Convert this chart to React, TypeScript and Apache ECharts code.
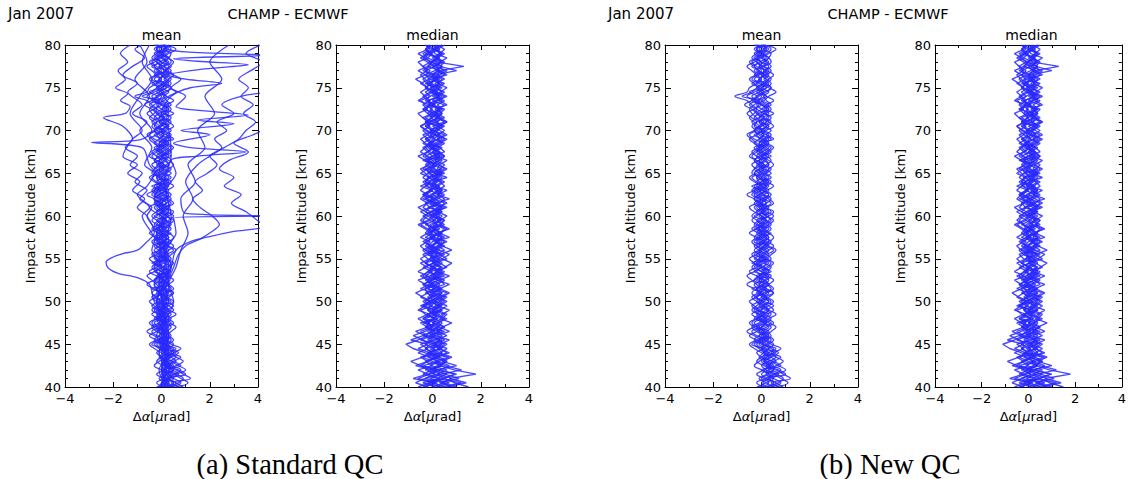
import React, { useEffect, useRef } from "react";
import * as echarts from "echarts";

// Altitude levels (km), 0.5 km steps from 40 to 80
const ALT = [
  40, 40.5, 41, 41.5, 42, 42.5, 43, 43.5, 44, 44.5,
  45, 45.5, 46, 46.5, 47, 47.5, 48, 48.5, 49, 49.5,
  50, 50.5, 51, 51.5, 52, 52.5, 53, 53.5, 54, 54.5,
  55, 55.5, 56, 56.5, 57, 57.5, 58, 58.5, 59, 59.5,
  60, 60.5, 61, 61.5, 62, 62.5, 63, 63.5, 64, 64.5,
  65, 65.5, 66, 66.5, 67, 67.5, 68, 68.5, 69, 69.5,
  70, 70.5, 71, 71.5, 72, 72.5, 73, 73.5, 74, 74.5,
  75, 75.5, 76, 76.5, 77, 77.5, 78, 78.5, 79, 79.5,
  80,
];

const X_TICKS = [-4, -2, 0, 2, 4];
const Y_TICKS = [40, 45, 50, 55, 60, 65, 70, 75, 80];
const PANEL_TITLES = ["mean", "median", "mean", "median"];
const CAPTIONS = ["(a) Standard QC", "(b) New QC"];

// Mean profiles (Δα in µrad) that survive both QC schemes
const MEAN_1 = [0.4,0.7,0.9,0.6,0.3,0.5,0.2,-0.1,0.1,0.3, 0.0,-0.3,-0.1,0.2,0.4,0.1,-0.2,0.0,0.3,0.1, -0.2,-0.4,-0.1,0.2,0.0,-0.3,-0.1,0.2,0.4,0.1, -0.1,0.1,0.3,0.0,-0.2,0.1,0.3,0.1,-0.2,0.0, 0.2,-0.1,-0.3,0.0,0.2,0.4,0.1,-0.2,0.0,0.3, 0.1,-0.2,-0.4,-0.1,0.2,0.0,-0.2,0.1,0.3,0.0, -0.3,-0.1,0.2,0.4,0.1,-0.2,-0.5,-0.2,0.1,-0.1, 0.2,0.0,-0.3,-0.1,0.2,0.3,0.0,-0.2,0.1,0.2, 0.0];
const MEAN_2 = [0.1,-0.2,0.2,0.5,0.8,0.4,0.1,0.3,0.0,-0.3, -0.5,-0.2,0.1,-0.1,0.2,0.5,0.2,-0.1,-0.3,0.0, 0.3,0.1,-0.2,0.0,0.3,0.1,-0.2,-0.5,-0.2,0.1, 0.4,0.2,-0.1,-0.3,0.0,0.2,-0.1,-0.4,-0.1,0.2, 0.0,-0.2,0.1,0.4,0.1,-0.1,-0.3,0.0,0.2,-0.1, -0.3,0.0,0.3,0.1,-0.2,-0.4,-0.1,0.2,0.0,-0.2, 0.1,0.3,0.0,-0.2,-0.4,-0.5,-0.3,-0.1,-0.8,-0.4, -0.2,0.1,0.3,0.1,-0.1,-0.3,-0.1,0.2,0.0,-0.2, 0.1];
const MEAN_3 = [0.6,1.1,0.8,0.5,0.2,0.0,0.3,0.6,0.3,0.0, 0.2,0.4,0.1,-0.2,-0.4,-0.1,0.1,0.4,0.2,-0.1, 0.1,0.3,0.5,0.2,-0.1,0.1,0.3,0.0,-0.2,0.0, -0.2,-0.4,-0.1,0.2,0.4,0.1,-0.1,0.1,0.4,0.2, -0.1,0.1,0.3,0.0,-0.3,-0.1,0.2,0.5,0.2,0.0, 0.2,0.4,0.1,-0.1,0.1,0.3,0.5,0.2,-0.1,0.1, 0.0,-0.2,-0.4,-0.1,0.1,0.3,0.0,-0.3,-0.1,0.2, 0.4,0.1,-0.1,0.2,0.4,0.1,-0.2,0.0,0.3,0.6, 0.1];
const MEAN_4 = [0.2,0.0,0.4,0.7,0.4,0.1,-0.2,0.0,0.3,0.5, 0.2,0.0,-0.3,-0.6,-0.3,0.0,0.2,-0.1,-0.4,-0.2, 0.0,0.2,-0.1,-0.3,-0.6,-0.3,0.0,0.2,0.0,-0.3, -0.1,0.2,0.5,0.2,0.0,-0.2,0.1,0.3,0.0,-0.2, -0.4,-0.2,0.1,-0.1,-0.3,-0.1,0.2,0.0,-0.3,-0.5, -0.2,0.1,-0.1,-0.3,0.0,0.2,0.0,-0.3,-0.5,-0.2, 0.0,0.2,0.0,-0.3,-0.1,0.2,0.0,-0.2,-0.4,-0.1, 0.1,-0.1,-0.4,-0.2,0.0,-0.2,-0.4,-0.1,0.1,-0.1, 0.0];
const MEAN_5 = [0.9,0.6,0.3,0.6,1.0,0.7,0.4,0.1,0.3,0.0, -0.2,0.1,0.3,0.1,-0.1,-0.3,0.0,0.2,0.5,0.3, 0.0,-0.2,0.1,0.4,0.2,-0.1,0.1,0.3,0.1,-0.2, 0.0,0.3,0.1,-0.2,-0.4,-0.1,0.2,0.4,0.2,0.0, 0.3,0.1,-0.1,0.2,0.4,0.1,-0.1,-0.3,0.0,0.2, 0.0,-0.1,0.2,0.4,0.2,-0.1,0.1,0.3,0.1,-0.1, -0.3,0.0,0.3,0.1,-0.2,0.0,0.2,0.5,0.2,0.0, -0.2,0.1,0.3,0.5,0.2,-0.1,0.1,0.3,0.4,0.1, 0.2];
const MEAN_6 = [-0.1,0.2,0.5,0.3,0.0,-0.3,-0.1,0.2,0.5,0.8, 0.4,0.1,-0.1,0.1,-0.2,-0.4,-0.2,0.1,-0.1,-0.3, -0.5,-0.2,0.0,-0.2,0.1,0.3,0.0,-0.2,-0.4,-0.2, 0.1,-0.1,-0.3,-0.1,0.1,-0.2,-0.5,-0.2,0.0,0.2, 0.0,-0.3,-0.5,-0.2,0.0,-0.2,-0.4,-0.1,0.1,-0.1, -0.3,-0.1,0.1,-0.2,-0.4,-0.2,0.0,-0.2,-0.4,-0.6, -0.3,-0.1,-0.3,-0.5,-0.3,-0.2,-0.4,-0.6,-1.1,-0.6, -0.5,-0.2,0.0,-0.2,-0.4,-0.6,-0.3,-0.1,-0.3,0.0, -0.2];
const MEAN_7 = [0.3,0.5,0.2,0.0,0.3,0.6,0.9,0.6,0.2,0.0, 0.1,-0.1,0.2,0.4,0.6,0.3,0.0,-0.2,0.0,0.3, 0.5,0.2,-0.1,0.1,0.3,0.5,0.2,0.0,0.2,0.4, 0.1,-0.1,0.1,0.3,0.1,-0.1,0.0,-0.2,0.1,0.3, 0.5,0.2,0.0,0.2,-0.1,-0.3,0.0,0.2,0.4,0.1, -0.1,0.1,-0.1,-0.3,-0.1,0.2,0.4,0.1,0.2,0.0, 0.2,0.5,0.3,0.1,0.3,0.0,-0.2,0.1,0.3,0.6, 0.3,0.0,0.2,0.0,-0.3,0.0,0.2,0.1,-0.1,0.2, 0.0];
const MEAN_8 = [0.0,0.3,0.1,-0.2,0.1,0.3,0.1,0.4,0.7,0.4, 0.1,-0.2,-0.5,-0.2,0.0,0.2,0.4,0.1,-0.2,-0.4, -0.1,0.1,0.3,0.0,-0.2,-0.4,-0.6,-0.3,0.0,0.2, 0.0,-0.2,0.0,0.2,-0.1,-0.3,-0.1,0.1,-0.2,-0.4, -0.2,0.0,0.2,-0.1,-0.3,-0.6,-0.3,-0.1,0.1,-0.2, 0.0,0.2,0.0,-0.2,-0.5,-0.3,-0.1,-0.3,-0.1,0.1, -0.2,-0.4,-0.2,0.1,-0.1,-0.3,-0.1,-0.3,-0.6,-0.3, 0.0,-0.2,-0.1,0.1,-0.1,-0.3,-0.5,-0.2,0.0,-0.2, -0.1];
const MEAN_9 = [0.5,0.2,0.0,0.2,0.5,0.3,0.6,0.4,0.1,-0.1, -0.3,0.0,0.2,0.0,0.3,0.1,-0.1,0.1,0.0,0.2, 0.0,-0.2,-0.4,-0.2,0.1,0.0,0.1,0.3,0.1,-0.1, 0.2,0.4,0.6,0.3,0.1,0.3,0.0,-0.1,0.1,0.4, 0.2,0.0,-0.2,0.0,0.1,0.3,0.1,0.3,0.1,0.4, 0.2,0.3,0.1,0.0,-0.2,0.0,0.3,0.1,0.4,0.2, 0.4,0.1,-0.1,0.1,0.0,0.3,0.1,-0.1,0.0,-0.2, 0.0,0.3,0.1,0.3,0.1,0.4,0.2,0.0,-0.2,0.1, 0.3];
const MEAN_10 = [0.7,0.4,1.2,0.9,0.6,0.3,0.1,0.4,0.1,0.3, 0.5,0.2,0.0,0.3,0.0,0.2,-0.1,-0.4,-0.1,0.1, -0.1,0.2,0.0,-0.2,0.1,-0.1,0.2,0.0,-0.3,-0.1, 0.2,0.0,-0.1,0.1,0.3,0.2,0.0,0.2,-0.1,0.1, 0.0,0.3,0.1,-0.2,0.2,0.0,-0.2,0.1,0.3,0.0, 0.2,0.0,0.3,0.2,0.0,0.3,0.1,-0.1,0.2,0.4, 0.1,-0.1,0.1,-0.1,0.2,0.4,0.2,0.0,0.2,0.0, 0.2,0.4,0.2,0.0,0.2,-0.1,0.1,0.3,0.0,-0.2, 0.0];
const MEAN_11 = [-0.2,0.1,-0.1,0.3,0.1,0.4,0.2,0.0,-0.2,0.1, 0.3,0.5,0.2,-0.1,-0.3,-0.5,-0.2,0.1,0.3,0.0, -0.2,0.0,0.2,0.5,0.3,0.1,-0.1,0.1,-0.1,-0.3, -0.5,-0.2,0.0,-0.2,0.1,0.3,0.1,-0.1,-0.3,-0.1, 0.1,0.4,0.2,0.0,-0.2,0.1,0.3,0.0,-0.2,-0.4, -0.1,-0.3,-0.1,0.1,0.3,0.1,-0.1,0.0,-0.3,-0.5, -0.2,0.0,0.2,0.0,-0.2,-0.4,-0.7,-0.4,-0.2,0.1, -0.1,-0.3,-0.5,-0.2,0.1,0.0,-0.2,-0.4,-0.2,0.1, -0.3];
const MEAN_12 = [0.4,0.8,0.5,0.2,0.5,0.2,0.0,0.2,0.5,0.2, -0.1,0.2,0.4,0.2,-0.1,0.1,0.3,0.6,0.3,0.1, 0.3,0.0,0.2,0.1,-0.1,0.2,0.4,0.1,0.3,0.5, 0.2,0.0,0.3,0.5,0.2,0.0,-0.2,0.0,0.3,0.5, 0.2,0.0,0.2,0.5,0.3,0.1,-0.1,0.2,-0.1,-0.2, 0.1,0.3,0.5,0.3,0.0,-0.2,0.1,-0.1,0.1,0.3, 0.0,0.2,0.4,0.2,0.5,0.2,0.3,0.0,-0.2,0.1, 0.4,0.2,-0.1,0.1,0.3,0.1,0.3,0.0,0.2,0.4, 0.1];
const MEAN_13 = [0.1,0.5,0.3,1.0,0.7,0.2,0.5,0.8,0.4,0.6, 0.0,0.3,-0.2,-0.4,0.0,0.4,0.1,0.3,-0.2,0.1, 0.4,0.2,0.5,-0.1,-0.3,0.0,-0.2,0.4,0.1,0.3, -0.3,0.0,0.2,-0.1,0.3,0.5,0.3,-0.1,0.1,-0.2, 0.3,0.5,0.0,-0.3,0.0,0.3,0.0,-0.4,0.3,0.1, 0.4,0.1,-0.2,0.2,0.0,0.4,0.2,0.0,0.5,0.2, -0.1,0.3,-0.1,0.3,0.2,0.1,0.4,0.2,0.1,0.3, 0.0,0.2,0.4,0.2,-0.2,0.1,0.4,0.3,0.0,0.3, -0.2];
const MEAN_14 = [0.2,0.6,0.2,0.4,0.0,0.8,0.5,0.0,0.6,0.1, -0.4,-0.1,0.3,0.0,-0.2,0.2,-0.3,-0.1,0.2,0.5, 0.1,-0.3,0.1,-0.4,0.3,-0.2,0.3,-0.3,0.0,-0.4, 0.3,-0.3,-0.1,0.1,-0.3,0.0,0.4,-0.3,0.3,0.1, -0.3,0.1,-0.1,0.2,0.0,-0.4,-0.2,0.2,-0.2,0.0, -0.4,-0.3,0.0,-0.1,0.4,-0.1,-0.3,0.3,0.0,-0.3, 0.1,-0.3,-0.2,-0.4,-0.6,-0.3,0.0,-0.4,-0.2,-0.5, -0.1,-0.4,0.0,-0.3,-0.1,-0.4,0.0,-0.3,-0.1,-0.3, 0.1];

// Mean profiles rejected by the new QC (pairs: [Δα, altitude])
const OUT_1 = [[0.1,40],[0.3,42],[-0.1,44],[0.2,46],[-0.2,48],[0.1,50],[-0.3,52],[0.0,54],[-0.4,56],[-0.2,58],[-0.6,60],[-0.4,61],[-0.9,62],[-0.6,63],[-1.1,64],[-0.8,65],[-1.3,66],[-1.0,67],[-1.5,68],[-1.2,69],[-1.6,70.5],[-2.4,71.5],[-1.5,72],[-1.3,72.8],[-1.7,73.5],[-1.4,74.3],[-1.9,75],[-1.5,76],[-1.8,77],[-1.4,78],[-1.7,79],[-1.3,80]];
const OUT_2 = [[0.3,40],[0.0,42],[0.4,44],[0.1,46],[-0.1,48],[0.2,50],[0.0,52],[0.3,54],[0.1,56],[-0.2,58],[0.1,60],[-0.3,62],[0.0,64],[-0.5,66],[-0.8,68],[-2.9,68.6],[-0.9,68.9],[-0.4,70],[-0.9,72],[-0.5,74],[-1.1,76],[-0.6,78],[-0.9,80]];
const OUT_3 = [[0.2,40],[-0.1,42],[0.3,44],[0.0,46],[0.2,48],[-0.2,50],[0.1,52],[0.4,54],[0.2,56],[0.6,58],[0.5,59.8],[4.5,60.0],[1.0,60.3],[0.8,62],[1.4,64],[1.1,66],[1.8,68],[1.5,70],[2.2,72],[1.8,74],[2.5,76],[2.0,78],[2.8,80]];
const OUT_4 = [[0.3,40],[0.0,42],[0.2,44],[-0.2,46],[0.1,48],[-0.3,50],[-0.5,52],[-1.0,52.8],[-1.8,53.3],[-2.2,53.9],[-2.3,54.6],[-2.0,55.2],[-1.6,55.6],[-1.0,56],[-0.6,57],[-0.3,58],[-0.6,60],[-1.0,61],[-0.7,62],[-1.2,63],[-0.9,64],[-1.4,65],[-1.0,66],[-1.6,67],[-1.2,69],[-0.8,70],[-1.3,72],[-0.9,74],[-0.4,76],[-0.8,78],[-0.5,80]];
const OUT_5 = [[0.1,40],[0.4,42],[0.1,44],[0.3,46],[0.0,48],[0.3,50],[0.1,52],[0.4,54],[0.6,56],[1.2,57],[2.0,57.6],[3.0,58.2],[4.2,58.8],[3.5,60.5],[2.9,61.5],[3.3,62.5],[2.6,63.5],[3.0,64.5],[2.4,65.5],[2.8,66.5],[3.6,67.5],[3.0,68.5],[3.8,69.5],[4.5,70.5]];
const OUT_6 = [[0.0,40],[0.2,42],[-0.1,44],[0.1,46],[0.3,48],[0.0,50],[0.2,52],[0.5,54],[0.7,55.5],[1.0,56.5],[1.6,57.3],[2.0,58],[2.4,59],[2.1,60],[1.6,61],[1.3,62],[1.7,63],[1.4,64],[1.9,65],[2.3,66],[2.0,67],[2.5,68],[2.2,69],[2.7,70],[2.3,71],[3.0,72],[2.5,73],[3.3,74],[4.5,74.5]];
const OUT_7 = [[0.2,40],[0.0,43],[0.3,46],[0.1,49],[-0.1,52],[0.2,55],[0.0,58],[0.3,61],[0.1,64],[0.4,67],[0.3,70],[0.0,72],[0.4,74],[1.2,75],[2.5,75.5],[1.0,76],[0.3,76.5],[1.8,77.2],[3.6,77.7],[1.5,78.1],[0.5,78.4],[4.5,78.8],[1.0,79.2],[0.2,79.6],[0.5,80]];
const OUT_8 = [[0.4,40],[0.1,42],[0.3,44],[0.0,46],[0.2,48],[0.5,50],[0.3,52],[0.6,54],[0.8,56],[1.1,58],[0.9,60],[1.3,62],[1.0,64],[1.5,66],[2.0,67],[2.6,68],[3.2,69],[3.5,70],[3.9,71],[3.4,72],[3.8,73],[3.3,74],[3.6,75],[3.2,76],[3.7,77],[4.2,78],[3.5,79],[4.1,80]];
const OUT_9 = [[-0.1,40],[0.2,42],[0.0,44],[0.3,46],[0.0,48],[-0.2,50],[0.1,52],[-0.3,54],[0.0,56],[-0.4,58],[-0.8,60],[-0.5,61],[-1.0,62.5],[-0.6,63.5],[-0.3,65],[-0.7,66],[-0.4,68],[-0.9,70],[-0.6,71],[-1.2,72],[-0.8,73],[-1.4,74.5],[-1.0,75.5],[-1.6,76.5],[-1.2,77.5],[-0.7,78.5],[-1.1,79.5],[-0.8,80]];
const OUT_10 = [[0.0,40],[0.2,44],[0.0,48],[0.3,52],[0.1,56],[0.4,60],[0.2,63],[0.6,65],[0.4,66.5],[1.5,67],[3.5,67.5],[1.2,68],[0.5,68.5],[2.0,69.5],[0.8,70],[3.0,70.8],[1.5,71.2],[3.6,71.8],[1.8,72.3],[0.6,72.8],[1.0,74],[0.4,75],[0.8,76],[0.2,77],[0.5,78],[0.0,79],[0.3,80]];

// Median profiles
const MED_1 = [0.3,-0.2,0.5,0.1,-0.3,0.4,0.0,-0.4,0.2,-0.1, 0.4,-0.2,0.1,0.5,-0.1,0.3,-0.3,0.2,0.0,0.4, -0.2,0.3,-0.1,0.4,0.0,-0.3,0.2,0.5,-0.1,0.3, 0.0,0.4,-0.2,0.2,0.6,0.1,-0.2,0.3,0.0,0.4, -0.1,0.2,0.5,0.0,-0.3,0.2,0.4,-0.1,0.1,0.3, -0.2,0.4,0.0,0.3,-0.3,0.1,0.4,-0.1,0.2,0.5, 0.0,-0.3,0.2,0.4,-0.1,0.3,0.0,-0.2,0.3,0.1, 0.4,-0.1,0.2,-0.3,0.1,0.4,0.0,0.3,-0.2,0.2, 0.0];
const MED_2 = [1.0,0.4,0.8,0.2,0.6,-0.1,0.3,0.7,0.1,-0.3, 0.2,-0.5,0.0,-0.2,0.3,-0.4,0.1,-0.2,0.2,-0.5, -0.1,0.2,-0.3,0.1,-0.4,0.0,0.3,-0.2,0.1,-0.3, 0.2,-0.1,0.3,-0.2,0.0,0.4,-0.1,0.2,-0.3,0.1, -0.2,0.3,-0.1,0.2,-0.4,0.0,0.2,-0.3,0.1,-0.1, 0.3,-0.2,0.1,-0.4,0.0,0.3,-0.2,0.1,-0.3,0.2, -0.1,0.3,-0.3,0.0,0.2,-0.4,0.1,-0.2,0.3,-0.1, 0.1,-0.3,0.2,-0.1,0.3,-0.2,0.0,0.2,-0.3,0.1, -0.2];
const MED_3 = [-0.4,0.2,-0.6,-0.1,0.3,-0.5,-0.2,0.1,-0.3,-0.8, -1.1,-0.6,-0.2,-0.5,0.0,-0.3,-0.6,-0.2,0.1,-0.4, -0.1,-0.5,-0.2,0.1,-0.3,-0.6,-0.1,0.2,-0.2,-0.5, -0.1,0.1,-0.3,0.0,-0.4,-0.1,0.2,-0.2,-0.5,-0.1, 0.1,-0.3,-0.6,-0.2,0.0,-0.4,-0.1,0.2,-0.3,-0.1, -0.5,-0.2,0.1,-0.3,-0.6,-0.2,0.0,-0.4,-0.1,0.1, -0.3,-0.5,-0.1,0.2,-0.2,-0.4,-0.1,-0.6,-0.3,0.0, -0.2,-0.5,-0.1,-0.3,-0.6,-0.2,0.0,-0.4,-0.1,-0.3, 0.0];
const MED_4 = [0.6,1.4,0.7,1.8,0.9,0.3,0.6,0.0,0.4,0.2, 0.5,0.1,0.6,0.2,0.4,0.8,0.3,0.5,0.0,0.3, 0.6,0.2,0.4,0.0,0.5,0.3,0.7,0.2,0.4,0.1, 0.6,0.3,0.8,0.4,0.1,0.5,0.2,0.7,0.3,0.5, 0.1,0.4,0.2,0.6,0.3,0.0,0.4,0.2,0.5,0.1, 0.3,0.6,0.2,0.4,0.0,0.5,0.3,0.1,0.4,0.2, 0.5,0.2,0.6,0.3,0.1,0.4,0.2,0.5,0.0,0.3, 0.6,0.2,0.4,0.1,1.0,0.3,0.5,0.2,0.4,0.1, 0.3];
const MED_5 = [0.2,0.7,-0.1,0.4,1.2,0.5,0.1,0.6,-0.2,0.3, -0.1,0.4,0.0,0.3,-0.3,0.2,0.5,0.1,-0.2,0.2, 0.4,0.0,0.3,-0.2,0.2,0.5,0.1,0.4,0.0,0.2, -0.1,0.3,0.1,0.5,0.2,-0.1,0.3,0.6,0.2,0.0, 0.3,0.1,0.4,-0.1,0.2,0.5,0.1,0.3,-0.2,0.2, 0.4,0.1,-0.1,0.3,0.5,0.2,-0.1,0.3,0.6,0.1, 0.2,0.5,0.0,0.3,0.1,0.4,-0.1,0.2,0.5,0.1, -0.1,0.3,0.1,0.5,0.2,0.0,0.4,0.1,0.3,0.5, 0.2];
const MED_6 = [-0.3,0.1,-0.8,-0.2,0.2,-0.4,0.3,-0.1,-0.6,-0.2, -0.5,0.1,-0.3,-0.7,-0.2,0.1,-0.4,-0.1,-0.6,-0.3, 0.0,-0.4,-0.7,-0.3,0.0,-0.2,-0.5,-0.1,0.1,-0.3, -0.5,-0.2,0.0,-0.3,-0.1,-0.5,-0.2,0.1,-0.2,-0.4, -0.2,-0.5,-0.1,-0.3,0.0,-0.2,-0.5,-0.3,-0.1,-0.4, -0.2,0.0,-0.3,-0.1,-0.4,-0.2,0.1,-0.3,-0.5,-0.2, 0.0,-0.3,-0.1,-0.4,-0.6,-0.2,-0.4,-0.1,-0.3,-0.5, -0.2,-0.4,-0.7,-0.3,-0.1,-0.4,-0.6,-0.2,-0.4,-0.1, -0.3];
const MED_7 = [0.8,0.3,1.1,0.5,0.0,0.4,-0.2,0.2,0.6,0.3, 0.0,0.5,0.2,0.7,0.3,0.0,0.4,0.6,0.2,0.1, 0.3,0.6,0.1,0.3,0.7,0.2,0.0,0.3,0.5,0.8, 0.4,0.1,0.5,0.2,0.4,0.0,0.3,0.5,0.1,0.3, 0.6,0.2,0.0,0.3,0.5,0.2,0.6,0.1,0.4,0.0, 0.2,0.5,0.3,0.6,0.1,0.3,0.0,0.4,0.2,0.6, 0.3,0.0,0.5,0.2,0.4,0.1,0.6,0.3,0.1,0.4, 0.2,0.5,0.0,0.3,0.6,0.1,0.4,0.2,0.5,0.0, 0.4];
const MED_8 = [0.1,-0.4,0.3,-0.2,-0.6,0.0,-0.3,0.3,-0.1,0.1, -0.3,0.0,-0.4,0.1,-0.2,-0.5,0.0,0.3,-0.1,-0.4, 0.2,-0.2,0.0,-0.5,-0.1,0.2,-0.3,0.0,-0.4,0.1, -0.2,-0.4,0.1,-0.1,0.2,-0.3,0.0,-0.2,0.2,-0.1, -0.4,0.0,0.2,-0.2,0.1,-0.3,0.0,-0.5,-0.1,0.2, -0.1,-0.3,0.1,-0.2,0.2,-0.1,-0.3,0.0,-0.2,-0.4, 0.1,-0.2,0.0,-0.3,0.2,-0.1,0.1,-0.3,-0.1,0.2, -0.3,0.0,-0.2,0.1,-0.4,-0.1,0.2,-0.2,0.0,-0.3, -0.1];
const MED_9 = [0.5,0.0,0.4,1.0,0.3,0.7,0.2,-0.2,0.3,0.0, 0.3,0.7,0.1,-0.1,0.2,0.4,0.1,-0.2,0.3,0.6, 0.1,-0.1,0.4,0.2,0.0,-0.2,0.4,0.1,0.6,0.3, 0.0,0.2,-0.1,0.4,0.1,0.7,0.3,0.0,0.4,0.1, 0.2,-0.1,0.3,0.5,0.1,0.3,-0.1,0.2,0.0,0.6, 0.1,-0.1,0.2,0.0,0.4,0.1,0.3,-0.1,0.0,0.3, 0.1,0.4,0.2,-0.1,0.3,0.5,0.0,0.2,0.6,0.2, 0.0,0.3,-0.1,0.6,0.3,0.1,0.3,0.6,0.1,0.0, 0.2];
const MED_10 = [-0.6,-0.1,0.2,-0.4,0.0,-0.7,-0.2,-0.5,0.0,-0.3, -0.1,-0.4,-0.8,-0.3,0.0,-0.2,0.1,-0.3,-0.5,0.0, -0.3,-0.1,0.1,-0.2,-0.4,0.0,-0.2,-0.6,-0.3,0.0, 0.1,-0.2,-0.4,-0.1,-0.3,0.1,-0.1,-0.3,-0.6,-0.2, 0.0,-0.3,-0.1,0.1,-0.2,-0.4,-0.1,0.0,-0.3,-0.2, 0.1,-0.4,-0.2,0.0,-0.2,-0.5,-0.3,-0.1,0.1,-0.2, -0.4,-0.1,-0.3,0.0,-0.2,0.0,-0.3,-0.5,-0.1,-0.3, 0.0,-0.2,-0.4,-0.1,-0.3,0.1,-0.2,-0.5,-0.2,0.0, -0.3];
const MED_11 = [1.5,0.9,0.5,0.9,0.2,1.0,0.4,0.8,0.3,0.6, 0.1,0.3,-0.1,0.2,0.5,0.0,0.2,0.4,0.7,0.2, 0.0,0.4,0.7,0.3,0.1,0.4,-0.1,0.2,0.3,0.0, 0.4,0.7,0.3,0.0,0.2,0.4,0.1,-0.1,0.3,0.5, 0.2,0.0,0.4,0.1,0.7,0.2,0.4,0.0,0.2,0.4, 0.1,0.3,0.5,0.1,0.3,0.0,0.2,0.5,0.1,-0.1, 0.2,0.4,0.1,0.5,0.2,0.3,0.0,0.4,0.2,0.0, 0.3,0.1,0.5,0.2,0.3,1.3,0.2,0.0,0.3,0.1, 0.4];
const MED_12 = [-0.2,-0.7,-0.3,0.1,-0.2,-0.5,-0.9,-0.4,-0.1,-0.6, -0.2,-0.9,-0.4,0.0,-0.3,-0.1,-0.4,0.0,-0.2,-0.1, -0.4,0.0,-0.2,-0.3,0.1,-0.1,-0.4,-0.2,0.0,-0.3, -0.1,0.0,-0.3,-0.5,-0.2,0.0,-0.3,-0.1,-0.2,-0.5, -0.3,-0.1,-0.4,-0.2,-0.5,-0.3,0.0,-0.2,-0.4,-0.1, -0.3,-0.5,-0.1,-0.3,0.0,-0.2,-0.4,-0.1,-0.3,0.0, -0.2,-0.5,-0.2,-0.4,0.0,-0.3,-0.1,-0.2,-0.4,-0.1, -0.3,-0.1,-0.3,-0.5,-0.2,-0.4,-0.1,-0.3,-0.6,-0.2, -0.1];
const MED_13 = [0.4,1.2,0.2,0.6,0.0,0.3,0.5,0.1,0.7,0.3, 0.6,0.2,0.4,0.0,0.5,0.2,0.6,0.0,0.4,0.2, 0.5,0.3,0.6,0.1,0.3,0.0,0.5,0.2,0.1,0.4, 0.2,0.5,0.0,0.3,0.5,0.2,0.4,0.0,0.5,0.2, 0.4,0.1,0.6,0.2,0.0,0.4,0.2,0.5,0.3,0.0, 0.5,0.2,0.3,0.1,0.5,0.3,0.0,0.2,0.5,0.3, 0.1,0.3,0.6,0.1,0.4,0.2,0.5,0.0,0.2,0.5, 0.1,0.4,0.2,0.0,0.5,0.2,0.3,0.1,0.4,0.2, 0.5];
const MED_14 = [0.0,0.5,-0.3,0.3,-0.1,0.2,0.6,0.3,-0.2,0.4, 0.1,0.3,-0.2,0.4,0.1,-0.3,0.2,0.0,0.4,-0.1, 0.2,0.5,0.0,0.3,-0.2,0.3,0.1,-0.1,0.4,0.0, 0.3,-0.2,0.2,0.0,0.3,-0.1,0.4,0.1,-0.1,0.3, 0.0,0.4,-0.2,0.3,0.1,-0.1,0.3,0.0,0.2,-0.2, 0.4,0.0,0.2,-0.2,0.3,0.0,0.2,-0.2,0.3,0.1, -0.1,0.2,-0.2,0.3,0.0,0.3,-0.2,0.1,0.4,0.0, 0.2,-0.2,0.3,0.0,0.2,0.4,-0.1,0.2,-0.1,0.3, 0.1];

const MEAN_CORE = [MEAN_1, MEAN_2, MEAN_3, MEAN_4, MEAN_5, MEAN_6, MEAN_7, MEAN_8, MEAN_9, MEAN_10, MEAN_11, MEAN_12, MEAN_13, MEAN_14];
const MEAN_OUTLIERS = [OUT_1, OUT_2, OUT_3, OUT_4, OUT_5, OUT_6, OUT_7, OUT_8, OUT_9, OUT_10];
const MEDIANS = [MED_1, MED_2, MED_3, MED_4, MED_5, MED_6, MED_7, MED_8, MED_9, MED_10, MED_11, MED_12, MED_13, MED_14];

const FONT = "DejaVu Sans";
const LINE_COLOR = "rgba(40,40,255,0.85)";
const GRID_LEFTS = [65, 336, 665, 935];
const GRID_TOP = 45;
const GRID_W = 193;
const GRID_H = 342;

const fmtX = (v: number) => (v < 0 ? "\u2212" + Math.abs(v) : String(v));

export default function App() {
  const ref = useRef<HTMLDivElement>(null);
  useEffect(() => {
    if (!ref.current) return;
    const chart = echarts.init(ref.current, undefined, { renderer: "svg" });

    const grids: any[] = [];
    const xAxes: any[] = [];
    const yAxes: any[] = [];
    const series: any[] = [];
    const axisLine = { show: true, onZero: false, lineStyle: { color: "#000", width: 1 } };

    GRID_LEFTS.forEach((left, i) => {
      grids.push({ left, top: GRID_TOP, width: GRID_W, height: GRID_H, containLabel: false });
      const xBase = {
        type: "value", gridIndex: i, min: X_TICKS[0], max: X_TICKS[X_TICKS.length - 1], interval: 2,
        axisLine, splitLine: { show: false },
        axisTick: { show: true, inside: true, length: 5, lineStyle: { color: "#000" } },
        minorTick: { show: true, splitNumber: 2, length: 3, lineStyle: { color: "#000" } },
      };
      xAxes.push({
        ...xBase, position: "bottom",
        axisLabel: { show: true, margin: 5, fontSize: 13, color: "#000", fontFamily: FONT, formatter: fmtX },
        name: "{n|\u0394}{i|\u03b1}{n|[}{i|\u03bc}{n|rad]}",
        nameLocation: "middle", nameGap: 22,
        nameTextStyle: {
          fontSize: 13, color: "#000", fontFamily: FONT,
          rich: { n: { fontSize: 13, fontFamily: FONT, color: "#000" }, i: { fontSize: 13, fontFamily: FONT, fontStyle: "italic", color: "#000" } },
        },
      });
      xAxes.push({ ...xBase, position: "top", axisLabel: { show: false } });
      const yBase = {
        type: "value", gridIndex: i, min: Y_TICKS[0], max: Y_TICKS[Y_TICKS.length - 1], interval: 5,
        axisLine, splitLine: { show: false },
        axisTick: { show: true, inside: true, length: 6, lineStyle: { color: "#000" } },
        minorTick: { show: true, splitNumber: 5, length: 3, lineStyle: { color: "#000" } },
      };
      yAxes.push({
        ...yBase, position: "left",
        axisLabel: { show: true, margin: 4, fontSize: 13, color: "#000", fontFamily: FONT },
        name: "Impact Altitude [km]", nameLocation: "middle", nameGap: 28, nameRotate: 90,
        nameTextStyle: { fontSize: 13, color: "#000", fontFamily: FONT },
      });
      yAxes.push({ ...yBase, position: "right", axisLabel: { show: false } });
    });

    const addLine = (gi: number, data: number[][], smooth: number, width: number) => {
      series.push({
        type: "line", xAxisIndex: gi * 2, yAxisIndex: gi * 2, data,
        showSymbol: false, symbol: "none", smooth, clip: true,
        lineStyle: { color: LINE_COLOR, width }, silent: true,
      });
    };
    const toPairs = (vals: number[]) => vals.map((v, k) => [v, ALT[k]]);

    // Panel (a) mean: all profiles
    MEAN_CORE.forEach((p) => addLine(0, toPairs(p), 0.4, 1.3));
    MEAN_OUTLIERS.forEach((p) => addLine(0, p, 0.3, 1.3));
    // Panel (a) median
    MEDIANS.forEach((p) => addLine(1, toPairs(p), 0, 1.4));
    // Panel (b) mean: outliers removed
    MEAN_CORE.forEach((p) => addLine(2, toPairs(p), 0.4, 1.3));
    // Panel (b) median
    MEDIANS.forEach((p) => addLine(3, toPairs(p), 0, 1.4));

    const graphics: any[] = [];
    [0, 600].forEach((dx, k) => {
      graphics.push({ type: "text", left: 8 + dx, top: 6, style: { text: "Jan 2007", fontSize: 15, fontFamily: FONT, fill: "#000" } });
      graphics.push({ type: "text", x: 288 + dx, y: 14, style: { text: "CHAMP - ECMWF", fontSize: 14.5, fontFamily: FONT, fill: "#000", align: "center", verticalAlign: "middle" } });
      graphics.push({ type: "text", x: 290 + dx, y: 464, style: { text: CAPTIONS[k], fontSize: 28.5, fontFamily: "Liberation Serif", fill: "#000", align: "center", verticalAlign: "middle" } });
    });
    GRID_LEFTS.forEach((left, i) => {
      graphics.push({ type: "text", x: left + GRID_W / 2, y: 35, style: { text: PANEL_TITLES[i], fontSize: 14, fontFamily: FONT, fill: "#000", align: "center", verticalAlign: "middle" } });
    });

    chart.setOption({
      animation: false,
      backgroundColor: "#fff",
      grid: grids,
      xAxis: xAxes,
      yAxis: yAxes,
      series,
      graphic: graphics,
    });
    return () => chart.dispose();
  }, []);
  return <div ref={ref} style={{ position: "fixed", left: 0, top: 0, width: 1129, height: 479 }} />;
}
